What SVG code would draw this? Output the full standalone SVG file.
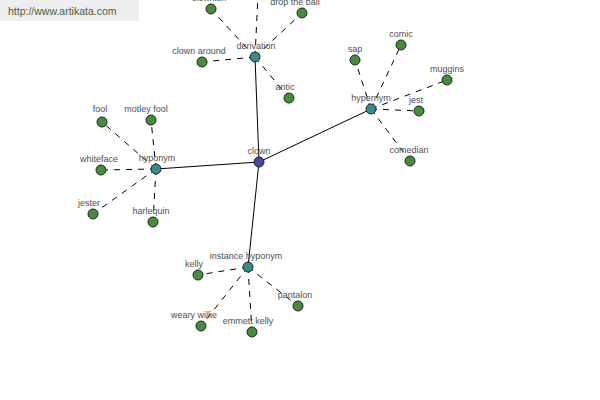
<svg xmlns="http://www.w3.org/2000/svg" width="600" height="400" viewBox="0 0 600 400">
<style>
.bg{fill:#ffffff}
.solid{stroke:#000;stroke-width:1;fill:none}
.dash{stroke:#000;stroke-width:1;fill:none;stroke-dasharray:6,6}
.leaf{fill:#4a8a40;stroke:#1a2a1a;stroke-width:1}
.mid{fill:#3a8a8c;stroke:#1a2a2a;stroke-width:1}
.root{fill:#4a4a9c;stroke:#1a1a3a;stroke-width:1}
text{font-family:"Liberation Sans",Arial,sans-serif;font-size:9px;fill:#505050;text-anchor:middle}
.hdr{font-size:10.5px;fill:#4a6040;text-anchor:start}
</style>
<rect class="bg" x="0" y="0" width="600" height="400"/>
<rect x="0" y="0" width="139" height="21" fill="#eeeeee"/>
<text class="hdr" x="8" y="15">http://www.artikata.com</text>
<g id="connectors">
<line class="solid" x1="259" y1="162" x2="255" y2="57"/>
<line class="solid" x1="259" y1="162" x2="371" y2="109"/>
<line class="solid" x1="259" y1="162" x2="156" y2="169"/>
<line class="solid" x1="259" y1="162" x2="248" y2="267"/>
<line class="dash" x1="255" y1="57" x2="211" y2="9"/>
<line class="dash" x1="255" y1="57" x2="258" y2="-5"/>
<line class="dash" x1="255" y1="57" x2="302" y2="13"/>
<line class="dash" x1="255" y1="57" x2="202" y2="62"/>
<line class="dash" x1="255" y1="57" x2="289" y2="98"/>
<line class="dash" x1="371" y1="109" x2="355" y2="60"/>
<line class="dash" x1="371" y1="109" x2="401" y2="45"/>
<line class="dash" x1="371" y1="109" x2="447" y2="80"/>
<line class="dash" x1="371" y1="109" x2="419" y2="111"/>
<line class="dash" x1="371" y1="109" x2="410" y2="161"/>
<line class="dash" x1="156" y1="169" x2="102" y2="122"/>
<line class="dash" x1="156" y1="169" x2="151" y2="120"/>
<line class="dash" x1="156" y1="169" x2="101" y2="170"/>
<line class="dash" x1="156" y1="169" x2="93" y2="214"/>
<line class="dash" x1="156" y1="169" x2="153" y2="222"/>
<line class="dash" x1="248" y1="267" x2="198" y2="275"/>
<line class="dash" x1="248" y1="267" x2="201" y2="326"/>
<line class="dash" x1="248" y1="267" x2="252" y2="332"/>
<line class="dash" x1="248" y1="267" x2="298" y2="306"/>
</g>
<g id="n-clown"><circle class="root" cx="259" cy="162" r="5"/><text x="259" y="154">clown</text></g>
<g id="n-derivation"><circle class="mid" cx="255" cy="57" r="5"/><text x="256" y="49">derivation</text></g>
<g id="n-hypernym"><circle class="mid" cx="371" cy="109" r="5"/><text x="371" y="101">hypernym</text></g>
<g id="n-hyponym"><circle class="mid" cx="156" cy="169" r="5"/><text x="157" y="161">hyponym</text></g>
<g id="n-instance-hyponym"><circle class="mid" cx="248" cy="267" r="5"/><text x="246" y="259">instance hyponym</text></g>
<g id="n-clownish"><circle class="leaf" cx="211" cy="9" r="5"/><text x="209" y="1">clownish</text></g>
<g id="n-drop-the-ball"><circle class="leaf" cx="302" cy="13" r="5"/><text x="295" y="5">drop the ball</text></g>
<g id="n-clown-around"><circle class="leaf" cx="202" cy="62" r="5"/><text x="199" y="54">clown around</text></g>
<g id="n-antic"><circle class="leaf" cx="289" cy="98" r="5"/><text x="285" y="90">antic</text></g>
<g id="n-sap"><circle class="leaf" cx="355" cy="60" r="5"/><text x="355" y="52">sap</text></g>
<g id="n-comic"><circle class="leaf" cx="401" cy="45" r="5"/><text x="401" y="37">comic</text></g>
<g id="n-muggins"><circle class="leaf" cx="447" cy="80" r="5"/><text x="447" y="72">muggins</text></g>
<g id="n-jest"><circle class="leaf" cx="419" cy="111" r="5"/><text x="416" y="103">jest</text></g>
<g id="n-comedian"><circle class="leaf" cx="410" cy="161" r="5"/><text x="409" y="153">comedian</text></g>
<g id="n-fool"><circle class="leaf" cx="102" cy="122" r="5"/><text x="100" y="112">fool</text></g>
<g id="n-motley-fool"><circle class="leaf" cx="151" cy="120" r="5"/><text x="146" y="112">motley fool</text></g>
<g id="n-whiteface"><circle class="leaf" cx="101" cy="170" r="5"/><text x="99" y="162">whiteface</text></g>
<g id="n-jester"><circle class="leaf" cx="93" cy="214" r="5"/><text x="89" y="206">jester</text></g>
<g id="n-harlequin"><circle class="leaf" cx="153" cy="222" r="5"/><text x="151" y="214">harlequin</text></g>
<g id="n-kelly"><circle class="leaf" cx="198" cy="275" r="5"/><text x="194" y="267">kelly</text></g>
<g id="n-weary-willie"><circle class="leaf" cx="201" cy="326" r="5"/><text x="194" y="318">weary willie</text></g>
<g id="n-emmett-kelly"><circle class="leaf" cx="252" cy="332" r="5"/><text x="248" y="324">emmett kelly</text></g>
<g id="n-pantalon"><circle class="leaf" cx="298" cy="306" r="5"/><text x="295" y="298">pantalon</text></g>
</svg>
